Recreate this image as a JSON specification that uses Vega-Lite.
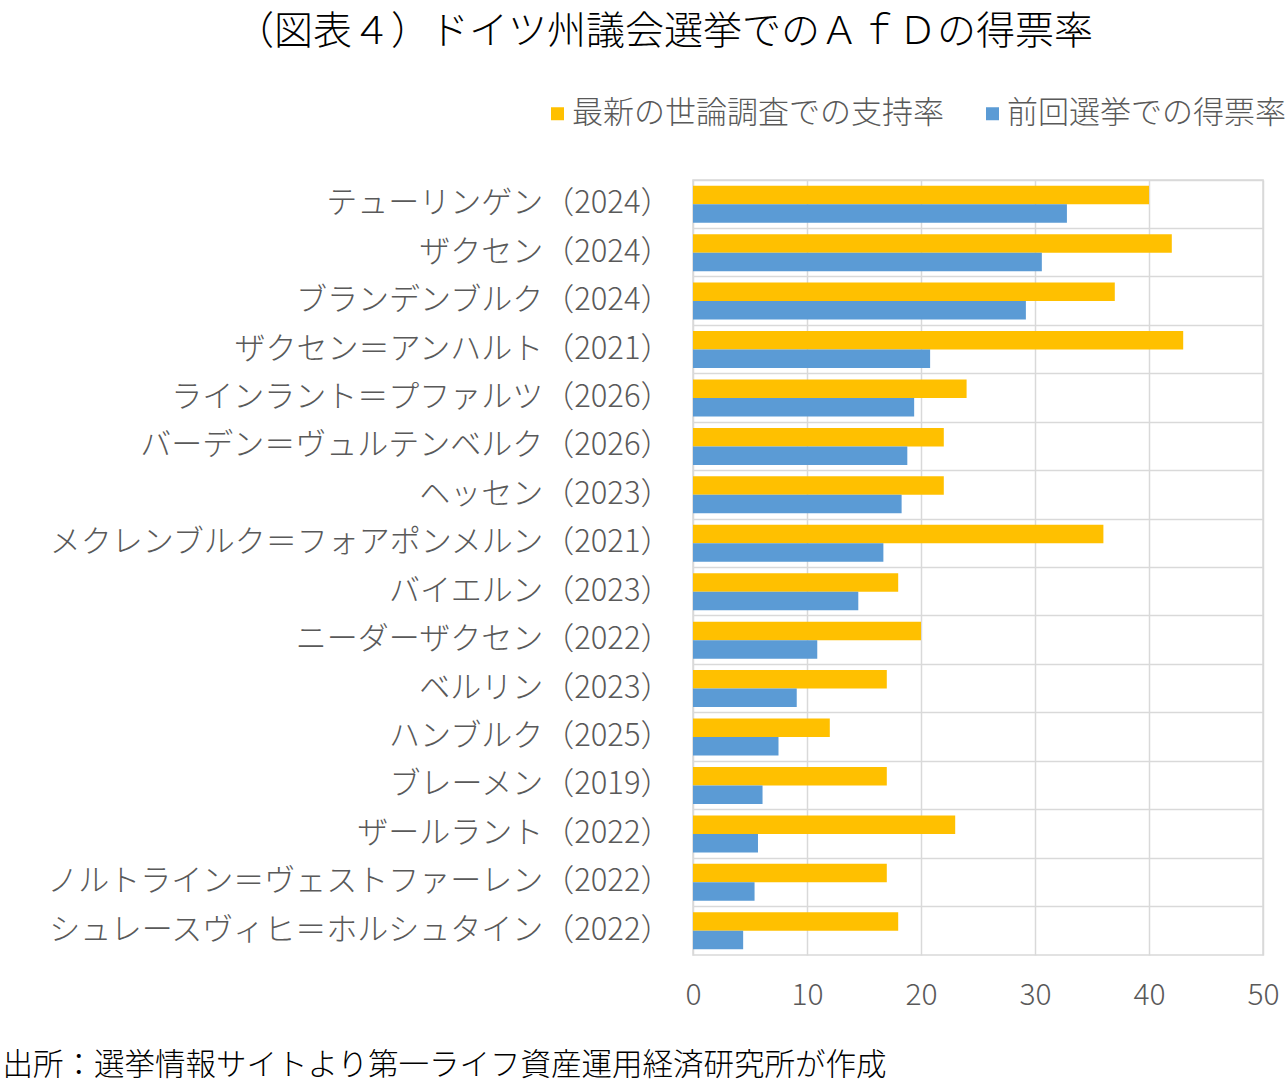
{
  "$schema": "https://vega.github.io/schema/vega-lite/v6.json",
  "autosize": {"type": "none"},
  "padding": {"left": 693, "top": 180, "right": 23, "bottom": 128},
  "width": 570,
  "height": 775,
  "background": "white",
  "config": {
    "font": "Noto Sans CJK JP",
    "view": {"stroke": "#d9d9d9", "strokeWidth": 1.5},
    "axis": {"labelColor": "#595959", "labelFont": "Noto Sans CJK JP", "labelFontWeight": 300}
  },
  "title": {
    "text": "（図表４）ドイツ州議会選挙でのＡｆＤの得票率",
    "anchor": "start",
    "frame": "group",
    "dx": -458,
    "offset": 46,
    "fontSize": 39,
    "fontWeight": 300,
    "color": "#000000"
  },
  "data": {
    "values": [
      {"state": "テューリンゲン（2024）", "series": "最新の世論調査での支持率", "value": 40},
      {"state": "テューリンゲン（2024）", "series": "前回選挙での得票率", "value": 32.8},
      {"state": "ザクセン（2024）", "series": "最新の世論調査での支持率", "value": 42},
      {"state": "ザクセン（2024）", "series": "前回選挙での得票率", "value": 30.6},
      {"state": "ブランデンブルク（2024）", "series": "最新の世論調査での支持率", "value": 37},
      {"state": "ブランデンブルク（2024）", "series": "前回選挙での得票率", "value": 29.2},
      {"state": "ザクセン＝アンハルト（2021）", "series": "最新の世論調査での支持率", "value": 43},
      {"state": "ザクセン＝アンハルト（2021）", "series": "前回選挙での得票率", "value": 20.8},
      {"state": "ラインラント＝プファルツ（2026）", "series": "最新の世論調査での支持率", "value": 24},
      {"state": "ラインラント＝プファルツ（2026）", "series": "前回選挙での得票率", "value": 19.4},
      {"state": "バーデン＝ヴュルテンベルク（2026）", "series": "最新の世論調査での支持率", "value": 22},
      {"state": "バーデン＝ヴュルテンベルク（2026）", "series": "前回選挙での得票率", "value": 18.8},
      {"state": "ヘッセン（2023）", "series": "最新の世論調査での支持率", "value": 22},
      {"state": "ヘッセン（2023）", "series": "前回選挙での得票率", "value": 18.3},
      {"state": "メクレンブルク＝フォアポンメルン（2021）", "series": "最新の世論調査での支持率", "value": 36},
      {"state": "メクレンブルク＝フォアポンメルン（2021）", "series": "前回選挙での得票率", "value": 16.7},
      {"state": "バイエルン（2023）", "series": "最新の世論調査での支持率", "value": 18},
      {"state": "バイエルン（2023）", "series": "前回選挙での得票率", "value": 14.5},
      {"state": "ニーダーザクセン（2022）", "series": "最新の世論調査での支持率", "value": 20},
      {"state": "ニーダーザクセン（2022）", "series": "前回選挙での得票率", "value": 10.9},
      {"state": "ベルリン（2023）", "series": "最新の世論調査での支持率", "value": 17},
      {"state": "ベルリン（2023）", "series": "前回選挙での得票率", "value": 9.1},
      {"state": "ハンブルク（2025）", "series": "最新の世論調査での支持率", "value": 12},
      {"state": "ハンブルク（2025）", "series": "前回選挙での得票率", "value": 7.5},
      {"state": "ブレーメン（2019）", "series": "最新の世論調査での支持率", "value": 17},
      {"state": "ブレーメン（2019）", "series": "前回選挙での得票率", "value": 6.1},
      {"state": "ザールラント（2022）", "series": "最新の世論調査での支持率", "value": 23},
      {"state": "ザールラント（2022）", "series": "前回選挙での得票率", "value": 5.7},
      {"state": "ノルトライン＝ヴェストファーレン（2022）", "series": "最新の世論調査での支持率", "value": 17},
      {"state": "ノルトライン＝ヴェストファーレン（2022）", "series": "前回選挙での得票率", "value": 5.4},
      {"state": "シュレースヴィヒ＝ホルシュタイン（2022）", "series": "最新の世論調査での支持率", "value": 18},
      {"state": "シュレースヴィヒ＝ホルシュタイン（2022）", "series": "前回選挙での得票率", "value": 4.4}
    ]
  },
  "layer": [
    {
      "mark": {"type": "bar", "opacity": 0},
      "encoding": {
        "y": {
          "field": "state", "type": "nominal", "sort": null,
          "scale": {"paddingInner": 0, "paddingOuter": 0},
          "axis": {"orient": "right", "title": null, "labels": false, "ticks": false, "domain": false,
                   "grid": true, "bandPosition": 0, "gridColor": "#d9d9d9", "gridWidth": 1.5}
        },
        "x": {"field": "value", "type": "quantitative"}
      }
    },
    {
      "mark": {"type": "bar"},
      "encoding": {
        "y": {
          "field": "state", "type": "nominal", "sort": null,
          "axis": {"title": null, "ticks": false, "domain": false, "grid": false,
                   "labelFontSize": 31, "labelPadding": 22, "labelLimit": 700}
        },
        "yOffset": {
          "field": "series", "type": "nominal",
          "sort": ["最新の世論調査での支持率", "前回選挙での得票率"],
          "scale": {"paddingOuter": 0.31, "paddingInner": 0}
        },
        "x": {
          "field": "value", "type": "quantitative",
          "scale": {"domain": [0, 50], "nice": false},
          "axis": {
            "values": [0, 10, 20, 30, 40, 50],
            "grid": true, "gridColor": "#d9d9d9", "gridWidth": 1.5,
            "ticks": false, "domain": false, "labelFlush": false,
            "labelFontSize": 30, "labelPadding": 25,
            "title": "出所：選挙情報サイトより第一ライフ資産運用経済研究所が作成",
            "titleAnchor": "start", "titleX": -691, "titleY": 95,
            "titleFontSize": 30.5, "titleFontWeight": 300, "titleColor": "#000000"
          }
        },
        "color": {
          "field": "series", "type": "nominal",
          "scale": {"domain": ["最新の世論調査での支持率", "前回選挙での得票率"], "range": ["#FFC000", "#5B9BD5"]},
          "legend": {
            "title": null, "orient": "none", "direction": "horizontal",
            "legendX": -151, "legendY": -82,
            "symbolType": "square", "symbolSize": 169, "symbolStrokeWidth": 0,
            "labelFontSize": 31, "labelColor": "#595959", "labelFontWeight": 300,
            "labelLimit": 500, "columnPadding": 33, "labelOffset": -1
          }
        }
      }
    }
  ],
  "resolve": {"axis": {"y": "independent"}}
}
